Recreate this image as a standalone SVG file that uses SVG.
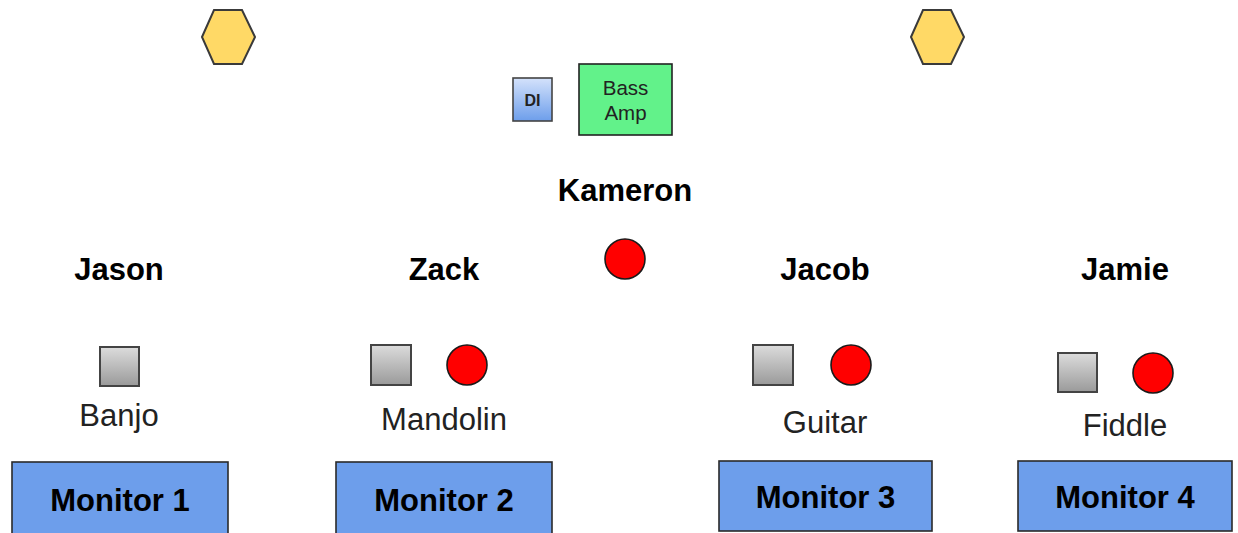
<svg xmlns="http://www.w3.org/2000/svg" width="1238" height="533" viewBox="0 0 1238 533">
<defs>
<linearGradient id="gGray" x1="0" y1="0" x2="0" y2="1">
<stop offset="0" stop-color="#dcdcdc"/>
<stop offset="1" stop-color="#9a9a9a"/>
</linearGradient>
<linearGradient id="gBlue" x1="0" y1="0" x2="0" y2="1">
<stop offset="0" stop-color="#d4e2fb"/>
<stop offset="1" stop-color="#6d9eeb"/>
</linearGradient>
<style>
.hex{fill:#ffd966;stroke:#3a3a3a;stroke-width:2}
.sq{fill:url(#gGray);stroke:#444;stroke-width:2}
.dot{fill:#ff0000;stroke:#1a1a1a;stroke-width:1.6}
.mon{fill:#6d9eeb;stroke:#2a2a2a;stroke-width:1.6}
.name{font-family:"Liberation Sans",Arial,sans-serif;font-weight:bold;font-size:31px;fill:#000;text-anchor:middle}
.inst{font-family:"Liberation Sans",Arial,sans-serif;font-size:31px;fill:#222;text-anchor:middle}
.small{font-family:"Liberation Sans",Arial,sans-serif;font-size:20.5px;fill:#222;text-anchor:middle}
</style>
</defs>
<rect width="1238" height="533" fill="#fff"/>
<g id="connectors"/>
<g id="hex-left"><polygon class="hex" points="202,37 214,10 242,10 255,37 242,64 214,64"/></g>
<g id="hex-right"><polygon class="hex" points="911,37 923,10 951,10 964,37 951,64 923,64"/></g>
<g id="di">
<rect x="513" y="78" width="39" height="43" fill="url(#gBlue)" stroke="#444" stroke-width="1.6"/>
<text x="532.5" y="105.5" font-family="Liberation Sans,Arial,sans-serif" font-weight="bold" font-size="16" text-anchor="middle" fill="#222">DI</text>
</g>
<g id="bass-amp">
<rect x="579" y="64" width="93" height="71" fill="#62f28a" stroke="#222" stroke-width="1.6"/>
<text class="small" x="625.5" y="95">Bass</text>
<text class="small" x="625.5" y="120">Amp</text>
</g>
<g id="kameron">
<text class="name" x="625" y="201">Kameron</text>
<circle class="dot" cx="625" cy="259" r="20"/>
</g>
<g id="jason">
<text class="name" x="119" y="280">Jason</text>
<rect class="sq" x="100" y="347" width="39" height="39"/>
<text class="inst" x="119" y="425.5">Banjo</text>
</g>
<g id="zack">
<text class="name" x="444" y="280">Zack</text>
<rect class="sq" x="371" y="345" width="40" height="40"/>
<circle class="dot" cx="467" cy="365" r="20"/>
<text class="inst" x="444" y="429.5">Mandolin</text>
</g>
<g id="jacob">
<text class="name" x="825" y="280">Jacob</text>
<rect class="sq" x="753" y="345" width="40" height="40"/>
<circle class="dot" cx="851" cy="365" r="20"/>
<text class="inst" x="825" y="432.5">Guitar</text>
</g>
<g id="jamie">
<text class="name" x="1125" y="280">Jamie</text>
<rect class="sq" x="1058" y="353" width="39" height="39"/>
<circle class="dot" cx="1153" cy="373" r="20"/>
<text class="inst" x="1125" y="435.5">Fiddle</text>
</g>
<g id="monitor-1">
<rect class="mon" x="12" y="462" width="216" height="80"/>
<text class="name" x="120" y="510.5">Monitor 1</text>
</g>
<g id="monitor-2">
<rect class="mon" x="336" y="462" width="216" height="80"/>
<text class="name" x="444" y="510.5">Monitor 2</text>
</g>
<g id="monitor-3">
<rect class="mon" x="719" y="461" width="213" height="70"/>
<text class="name" x="825.5" y="507.5">Monitor 3</text>
</g>
<g id="monitor-4">
<rect class="mon" x="1018" y="461" width="214" height="70"/>
<text class="name" x="1125" y="507.5">Monitor 4</text>
</g>
</svg>
